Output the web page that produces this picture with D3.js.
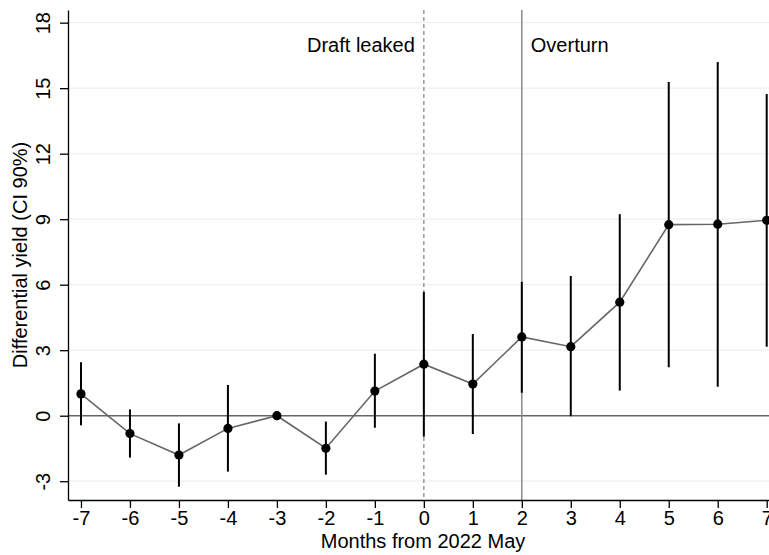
<!DOCTYPE html>
<html>
<head>
<meta charset="utf-8">
<script src="https://cdn.jsdelivr.net/npm/d3@7"></script>
<style>
  body { margin: 0; background: #fff; }
  svg { display: block; font-family: Arial, "Liberation Sans", sans-serif; }
</style>
</head>
<body>
<svg id="chart"></svg>
<script>
const width = 769;
const height = 555;

// Months from 2022 May, estimates and 90% CI
const months = [-7, -6, -5, -4, -3, -2, -1, 0, 1, 2, 3, 4, 5, 6, 7];
const estimates = [1.0, -0.82, -1.8, -0.58, 0, -1.49, 1.13, 2.36, 1.45, 3.61, 3.16, 5.2, 8.75, 8.77, 8.95];
const ciLow = [-0.44, -1.92, -3.25, -2.56, 0, -2.7, -0.55, -0.96, -0.84, 1.05, -0.02, 1.15, 2.22, 1.33, 3.16];
const ciHigh = [2.45, 0.29, -0.35, 1.41, 0, -0.27, 2.84, 5.67, 3.74, 6.13, 6.4, 9.23, 15.28, 16.2, 14.73];
const yTicks = [-3, 0, 3, 6, 9, 12, 15, 18];
const events = [
  { month: 0, label: "Draft leaked", side: "left", dashed: true },
  { month: 2, label: "Overturn", side: "right", dashed: false }
];

const margin = { top: 10, left: 68, bottom: 500 };

const x = d3.scaleLinear()
  .domain([-7.265, 7.265])
  .range([margin.left, margin.left + 14.53 * 48.98]);

const y = d3.scaleLinear()
  .domain([-3.86, 18.58])
  .range([margin.bottom, margin.top]);

const svg = d3.select("#chart")
  .attr("width", width)
  .attr("height", height);

const data = months.map((m, i) => ({ m, est: estimates[i], lo: ciLow[i], hi: ciHigh[i] }));

// Gridlines
svg.append("g")
  .selectAll("line")
  .data(yTicks.filter(t => t !== 0))
  .enter().append("line")
  .attr("x1", x.range()[0])
  .attr("x2", width)
  .attr("y1", d => y(d))
  .attr("y2", d => y(d))
  .attr("stroke", "#eaf2f3")
  .attr("stroke-width", 1.2);

// Zero line
svg.append("line")
  .attr("x1", x.range()[0])
  .attr("x2", width)
  .attr("y1", y(0))
  .attr("y2", y(0))
  .attr("stroke", "#666")
  .attr("stroke-width", 1.5);

// Event lines
svg.append("g")
  .selectAll("line")
  .data(events)
  .enter().append("line")
  .attr("x1", d => x(d.month))
  .attr("x2", d => x(d.month))
  .attr("y1", y.range()[1])
  .attr("y2", y.range()[0])
  .attr("stroke", "#8a8a8a")
  .attr("stroke-width", d => d.dashed ? 1.3 : 1.5)
  .attr("stroke-dasharray", d => d.dashed ? "4,3" : null);

svg.append("g")
  .selectAll("text")
  .data(events)
  .enter().append("text")
  .attr("x", d => d.side === "left" ? x(d.month) - 9 : x(d.month) + 9)
  .attr("y", 52)
  .attr("text-anchor", d => d.side === "left" ? "end" : "start")
  .attr("font-size", 20)
  .attr("fill", "#000")
  .text(d => d.label);

// Confidence intervals
svg.append("g")
  .selectAll("line")
  .data(data.filter(d => d.hi !== d.lo))
  .enter().append("line")
  .attr("x1", d => x(d.m))
  .attr("x2", d => x(d.m))
  .attr("y1", d => y(d.lo))
  .attr("y2", d => y(d.hi))
  .attr("stroke", "#000")
  .attr("stroke-width", 2);

// Connecting line
const line = d3.line()
  .x(d => x(d.m))
  .y(d => y(d.est));

svg.append("path")
  .datum(data)
  .attr("d", line)
  .attr("fill", "none")
  .attr("stroke", "#666")
  .attr("stroke-width", 1.6);

// Points
svg.append("g")
  .selectAll("circle")
  .data(data)
  .enter().append("circle")
  .attr("cx", d => x(d.m))
  .attr("cy", d => y(d.est))
  .attr("r", 4.6)
  .attr("fill", "#000");

// Axes
const xAxis = d3.axisBottom(x)
  .tickValues(months)
  .tickSize(8)
  .tickSizeOuter(0)
  .tickFormat(d3.format("d"));

const gx = svg.append("g")
  .attr("transform", `translate(0,${margin.bottom})`)
  .call(xAxis);
gx.select(".domain").attr("stroke-width", 1.3);
gx.selectAll(".tick line").attr("stroke-width", 1.3);
gx.selectAll(".tick text")
  .attr("font-size", 20)
  .attr("font-family", "Arial, 'Liberation Sans', sans-serif")
  .attr("dy", null)
  .attr("y", 25)
  .text(d => d < 0 ? "-" + Math.abs(d) : d);

const yAxis = d3.axisLeft(y)
  .tickValues(yTicks)
  .tickSize(8)
  .tickSizeOuter(0);

const gy = svg.append("g")
  .attr("transform", `translate(${margin.left},0)`)
  .call(yAxis);
gy.select(".domain").attr("stroke-width", 1.3);
gy.selectAll(".tick line").attr("stroke-width", 1.3);
gy.selectAll(".tick text")
  .attr("font-size", 20)
  .attr("font-family", "Arial, 'Liberation Sans', sans-serif")
  .attr("x", null)
  .attr("dy", null)
  .attr("text-anchor", "middle")
  .attr("transform", `translate(-18,0) rotate(-90)`)
  .text(d => d < 0 ? "-" + Math.abs(d) : d);

// Axis titles
svg.append("text")
  .attr("x", 423)
  .attr("y", 548)
  .attr("text-anchor", "middle")
  .attr("font-size", 20)
  .text("Months from 2022 May");

svg.append("text")
  .attr("transform", `translate(27,${(y.range()[0] + y.range()[1]) / 2}) rotate(-90)`)
  .attr("text-anchor", "middle")
  .attr("font-size", 20)
  .text("Differential yield (CI 90%)");
</script>
</body>
</html>
